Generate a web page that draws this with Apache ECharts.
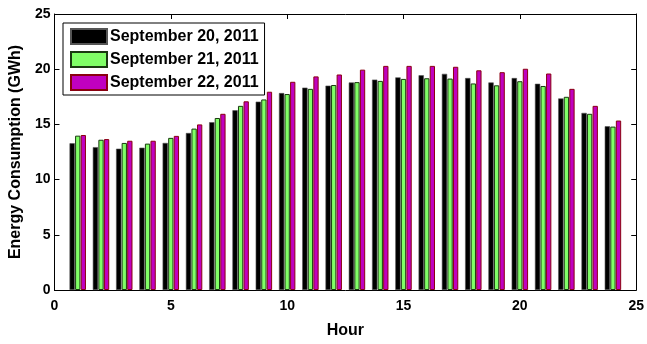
<!DOCTYPE html>
<html>
<head>
<meta charset="utf-8">
<script src="https://cdn.jsdelivr.net/npm/echarts@6/dist/echarts.min.js"></script>
<style>
html,body{margin:0;padding:0;background:#fff;}
#c{width:647px;height:344px;}
</style>
</head>
<body>
<div id="c"></div>
<script>
const hours = [1,2,3,4,5,6,7,8,9,10,11,12,13,14,15,16,17,18,19,20,21,22,23,24];
const sep20 = [13.29,12.94,12.80,12.89,13.32,14.22,15.20,16.28,17.06,17.84,18.33,18.51,18.80,19.06,19.26,19.45,19.58,19.20,18.80,19.20,18.68,17.35,16.04,14.83];
const sep21 = [13.98,13.61,13.32,13.26,13.78,14.62,15.58,16.68,17.26,17.75,18.22,18.57,18.83,18.94,19.12,19.18,19.15,18.71,18.54,18.91,18.48,17.50,15.96,14.80];
const sep22 = [14.04,13.67,13.52,13.52,13.96,15.00,15.96,17.09,17.96,18.86,19.35,19.52,19.96,20.30,20.30,20.30,20.22,19.90,19.73,20.04,19.61,18.22,16.68,15.35];
const seriesNames = ['September 20, 2011','September 21, 2011','September 22, 2011'];
const xTicks = [0,25,5];
const yTicks = [0,25,5];

const font = 'Liberation Sans, Arial, Helvetica, sans-serif';
function pairs(vals){ return hours.map((h,i)=>[h, vals[i]]); }

const chart = echarts.init(document.getElementById('c'), null, {renderer:'canvas'});
const axisCommon = {
  axisLine:{show:true, onZero:false, lineStyle:{color:'#000', width:1}},
  axisTick:{show:true, inside:true, length:5, lineStyle:{color:'#000'}},
  splitLine:{show:false}
};
chart.setOption({
  animation:false,
  backgroundColor:'#fff',
  grid:{left:54, right:10, top:14, bottom:42.5, containLabel:false},
  legend:{
    orient:'vertical', left:63, top:23, icon:'rect',
    padding:[5,6,4,7], itemGap:6, itemWidth:36, itemHeight:15,
    backgroundColor:'#fff', borderColor:'#000', borderWidth:1, borderRadius:0,
    textStyle:{fontFamily:font, fontWeight:'bold', fontSize:16, color:'#000', padding:[0,0,0,-2]},
    data:seriesNames
  },
  xAxis:[
    Object.assign({type:'value', min:xTicks[0], max:xTicks[1], interval:xTicks[2], position:'bottom',
      name:'Hour', nameLocation:'middle', nameGap:33,
      nameTextStyle:{fontFamily:font, fontWeight:'bold', fontSize:16, color:'#000'},
      axisLabel:{fontFamily:font, fontWeight:'bold', fontSize:14, color:'#000', margin:9}}, axisCommon),
    Object.assign({type:'value', min:xTicks[0], max:xTicks[1], interval:xTicks[2], position:'top',
      axisLabel:{show:false}}, axisCommon)
  ],
  yAxis:[
    Object.assign({type:'value', min:yTicks[0], max:yTicks[1], interval:yTicks[2], position:'left',
      name:'Energy Consumption (GWh)', nameLocation:'middle', nameGap:30,
      nameTextStyle:{fontFamily:font, fontWeight:'bold', fontSize:16, color:'#000'},
      axisLabel:{fontFamily:font, fontWeight:'bold', fontSize:14, color:'#000', margin:4}}, axisCommon),
    Object.assign({type:'value', min:yTicks[0], max:yTicks[1], interval:yTicks[2], position:'right',
      axisLabel:{show:false}}, axisCommon)
  ],
  series:[
    {name:seriesNames[0], type:'bar', xAxisIndex:0, yAxisIndex:0, data:pairs(sep20), barWidth:5.3, barGap:'5%',
      itemStyle:{color:'#000', borderColor:'#555', borderWidth:0.6}},
    {name:seriesNames[1], type:'bar', xAxisIndex:0, yAxisIndex:0, data:pairs(sep21), barWidth:5.3, barGap:'5%',
      itemStyle:{color:'#80ff66', borderColor:'#1a3a10', borderWidth:1}},
    {name:seriesNames[2], type:'bar', xAxisIndex:0, yAxisIndex:0, data:pairs(sep22), barWidth:5.3, barGap:'5%',
      itemStyle:{color:'#c000c0', borderColor:'#8a0010', borderWidth:1}}
  ]
});
</script>
</body>
</html>
